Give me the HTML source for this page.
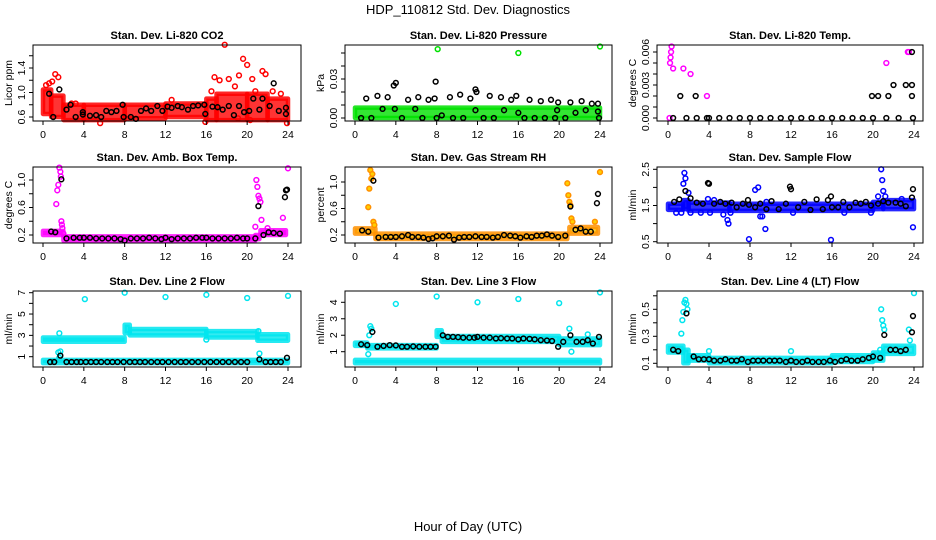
<!DOCTYPE html>
<html><head><meta charset="utf-8"><style>
html,body{margin:0;padding:0;background:#fff;}
svg{display:block;font-family:"Liberation Sans",sans-serif;}
</style></head><body>
<svg id="chart" width="936" height="540" viewBox="0 0 936 540" xmlns="http://www.w3.org/2000/svg">
<text x="468" y="14" text-anchor="middle" font-size="13">HDP_110812  Std. Dev. Diagnostics</text>
<text x="468" y="531" text-anchor="middle" font-size="13">Hour of Day (UTC)</text>
</svg>
<script>
const xTicks=[0,4,8,12,16,20,24];
// Panel 1 CO2
const co2Runs=[[0,0.8,0.65,1.05],[0.8,2,0.6,0.95],[2,4,0.55,0.8],[4,8,0.55,0.8],[8,12,0.58,0.8],[12,16,0.6,0.82],[16,17,0.55,0.9],[17,20,0.55,0.98],[20,22,0.55,0.98],[22,24,0.55,0.9]];
const co2PtsX=[0.3,0.6,0.9,1.2,1.5,2.8,3.2,5.6,12.6,15.9,16.5,16.8,17.3,17.8,18.2,18.8,19.2,19.6,20,20.5,20.8,21.5,21.8,22.5,23.3,23.9,19.1,20.3];
const co2PtsY=[1.12,1.15,1.18,1.3,1.25,0.82,0.82,0.5,0.88,0.52,1.02,1.25,1.2,1.78,1.22,1.1,1.28,1.55,1.45,1.22,1.02,1.35,1.3,1.02,0.98,0.5,0.58,0.55];
const co2BlkX=[0.6,1.0,1.6,2.3,2.7,3.2,3.9,3.9,4.6,5.2,5.7,6.2,6.7,7.2,7.8,7.9,8.6,9.1,9.6,10.1,10.6,11.2,11.7,12.2,12.6,13.2,13.6,14.2,14.7,15.2,15.8,15.9,16.6,17.1,17.6,18.2,18.7,19.2,19.7,20.2,20.6,21.2,21.5,22.2,22.6,23.1,23.8,23.8];
const co2BlkY=[0.98,0.6,1.05,0.72,0.8,0.6,0.68,0.64,0.62,0.63,0.6,0.7,0.68,0.7,0.8,0.6,0.6,0.57,0.7,0.74,0.7,0.78,0.7,0.77,0.75,0.78,0.76,0.72,0.78,0.79,0.8,0.65,0.77,0.76,0.72,0.78,0.63,0.78,0.68,0.7,0.9,0.72,0.9,0.78,1.15,0.7,0.75,0.65];
const co2Ticks=[0.6,0.8,1.0,1.2,1.4,1.6];const co2Labels=["0.6","1.0","1.4"];
// Panel 2 Pressure
const presRuns=[[0,24,0,0.008]];
const presPtsX=[8.1,16,24];const presPtsY=[0.053,0.05,0.055];
const presBlkX=[1.1,2.2,3.2,3.8,4,5.2,6.2,7.2,7.9,7.8,9.3,10.3,11.3,11.8,11.9,13.2,14.3,15.3,15.8,17.1,18.2,19.2,19.9,21.1,22.2,23.2,23.8,0.6,1.6,2.7,3.9,4.6,5.9,6.6,8,8.5,9.6,10.6,11.8,12.6,13.6,14.6,16,16.6,17.6,18.6,19.6,19.8,20.6,21.6,22.6,23.8,23.9];
const presBlkY=[0.015,0.017,0.016,0.025,0.027,0.014,0.016,0.014,0.028,0.015,0.016,0.018,0.015,0.022,0.02,0.017,0.016,0.014,0.017,0.014,0.013,0.014,0.012,0.012,0.013,0.011,0.011,0,0,0.007,0.007,0,0.007,0,0,0.002,0,0,0.006,0,0,0.006,0.004,0,0,0,0,0.006,0,0.004,0.006,0.005,0];
const presTicks=[0,0.01,0.02,0.03,0.04,0.05];const presLabels=["0.00","0.03"];
// Panel 3 Temp
const tempRuns=[[0,24,0,0],[0.1,2.3,0.002,0.002],[0.3,1.3,0.003,0.003],[20,24,0.002,0.002],[21,23.5,0.003,0.003],[21.6,23,0.004,0.004],[22.8,23.3,0.005,0.005]];
const tempPtsX=[0.15,0.2,0.25,0.3,0.35,0.5,1.5,2.2,3.8,21.3,23.4,23.5];
const tempPtsY=[0,0.005,0.0055,0.006,0.0065,0.0045,0.0045,0.004,0.002,0.005,0.006,0.006];
const tempBlkX=[1.2,2.7,19.9,20.5,21.5,22,23.2,23.8,23.8,23.8,0.5,1.8,2.8,3.8,4,5,6,7,8,9,10,11,12,13,14,15,16,17,18,19,20,21.3,22.5,23.9];
const tempBlkY=[0.002,0.002,0.002,0.002,0.002,0.003,0.003,0.003,0.002,0.006,0,0,0,0,0,0,0,0,0,0,0,0,0,0,0,0,0,0,0,0,0,0,0,0];
const tempTicks=[0,0.001,0.002,0.003,0.004,0.005,0.006];const tempLabels=["0.000","0.003","0.006"];
// Panel 4 Amb box temp
const ambRuns=[[0,2,0.2,0.26],[2,20.8,0.12,0.18],[20.8,21.2,0.14,0.2],[21.3,23.8,0.2,0.27]];
const ambPtsX=[1.3,1.4,1.5,1.6,1.7,1.75,1.8,1.85,1.9,2.0,20.8,20.9,21.0,21.1,21.2,21.3,21.4,23.5,24,20.7,22];
const ambPtsY=[0.65,0.85,0.93,1.18,1.12,1.05,0.4,0.35,0.3,0.22,0.32,1.0,0.9,0.77,0.73,0.68,0.42,0.45,1.17,0.15,0.3];
const ambBlkX=[0.8,1.2,1.8,2.3,3,3.6,4,4.6,5.2,5.8,6.4,7,7.6,8,8.6,9.2,9.8,10.4,11,11.6,12,12.6,13.2,13.8,14.4,15,15.6,16,16.6,17.2,17.8,18.4,19,19.6,20,20.8,21.1,21.6,22.1,22.6,23.2,23.7,23.8,23.9];
const ambBlkY=[0.25,0.24,1.01,0.15,0.16,0.16,0.16,0.16,0.15,0.15,0.15,0.15,0.14,0.12,0.15,0.15,0.15,0.16,0.15,0.14,0.16,0.14,0.15,0.15,0.15,0.16,0.16,0.16,0.15,0.15,0.15,0.15,0.16,0.15,0.15,0.15,0.62,0.2,0.24,0.23,0.22,0.75,0.85,0.86];
const ambTicks=[0.2,0.4,0.6,0.8,1.0];const ambLabels=["0.2","0.6","1.0"];
// Panel 5 RH
const rhRuns=[[0,2,0.22,0.3],[2,20.8,0.14,0.22],[21,23.8,0.22,0.32]];
const rhPtsX=[1.3,1.4,1.5,1.6,1.7,1.8,1.9,20.8,20.9,21,21.1,21.2,21.3,23.5,24];
const rhPtsY=[0.62,0.9,1.18,1.05,1.12,0.4,0.35,0.98,0.8,0.7,0.65,0.45,0.4,0.4,1.15];
const rhBlkX=[0.7,1.3,1.8,2.3,3,3.5,4,4.6,5.2,5.6,6.2,6.7,7.2,7.6,8,8.6,9.2,9.7,10.2,10.7,11.2,11.8,12.4,12.9,13.5,14,14.6,15.2,15.7,16.2,16.8,17.3,17.8,18.3,18.8,19.3,19.9,20.6,21.1,21.6,22.1,22.6,23.1,23.7,23.8];
const rhBlkY=[0.27,0.25,1.02,0.16,0.17,0.17,0.17,0.18,0.2,0.17,0.17,0.16,0.14,0.15,0.18,0.18,0.19,0.13,0.16,0.17,0.17,0.18,0.17,0.17,0.16,0.17,0.2,0.19,0.18,0.16,0.18,0.17,0.19,0.19,0.21,0.19,0.17,0.19,0.63,0.28,0.3,0.25,0.25,0.68,0.82];
const rhTicks=[0.2,0.4,0.6,0.8,1.0];const rhLabels=["0.2","0.6","1.0"];
// Panel 6 Sample flow
const sfRuns=[[0,1.5,1.38,1.55],[1.5,2,1.4,1.65],[2,6,1.35,1.58],[6,20,1.35,1.55],[20,21,1.4,1.6],[21,24,1.4,1.65]];
const sfPtsX=[1.3,1.5,1.6,1.7,2.0,3.2,4.1,5.4,5.8,5.9,6.1,7.9,8.5,8.8,9.0,9.2,9.5,9.6,15.9,17.2,19.8,20.5,20.8,20.9,21.0,21.2,22.8,23.9,0.8,2.2,12.2,3.9,4.5];
const sfPtsY=[1.3,2.1,2.4,2.25,1.85,1.3,1.3,1.25,1.1,1.0,1.3,0.57,1.93,2.0,1.2,1.2,0.85,1.6,0.55,1.3,1.3,1.75,2.5,2.2,1.9,1.75,1.68,0.9,1.3,1.3,1.3,1.68,1.65];
const sfBlkX=[0.6,1.1,1.7,2.2,2.8,3.4,3.9,4.0,4.5,5.1,5.6,6.2,6.7,7.3,7.8,7.9,8.5,9.0,9.6,10.1,10.8,11.5,11.9,12.0,12.7,13.3,13.9,14.5,15.1,15.6,15.9,16.0,16.6,17.1,17.7,18.3,18.8,19.3,19.8,20.5,21.0,21.5,22.2,22.7,23.2,23.8,23.9];
const sfBlkY=[1.6,1.67,1.9,1.7,1.58,1.55,2.12,2.1,1.55,1.6,1.55,1.58,1.45,1.55,1.65,1.52,1.45,1.55,1.4,1.62,1.4,1.55,2.02,1.95,1.45,1.6,1.38,1.67,1.4,1.65,1.75,1.45,1.45,1.6,1.45,1.58,1.55,1.6,1.5,1.55,1.62,1.58,1.58,1.55,1.48,1.72,1.95];
const sfTicks=[0.5,1.0,1.5,2.0,2.5];const sfLabels=["0.5","1.5","2.5"];
// Panel 7 Line 2
const l2Runs=[[0,8,2.4,2.8],[8,8.5,3.2,4.0],[8.5,16,3.0,3.6],[16,21,2.8,3.4],[21,24,2.5,3.1],[0,24,0.4,0.7]];
const l2PtsX=[4.1,8,12,16,20,24,1.6,1.7,1.6,1.5,16,21.1,21.2];
const l2PtsY=[6.4,7.0,6.6,6.8,6.5,6.7,3.2,1.5,0.9,1.4,2.6,3.4,1.3];
const l2BlkX=[0.7,1.1,1.7,2.3,2.8,3.3,3.7,4.2,4.7,5.2,5.7,6.3,6.8,7.3,7.9,8.5,9.0,9.5,10.0,10.6,11.2,11.7,12.3,12.9,13.5,14.0,14.6,15.2,15.8,16.4,17.0,17.6,18.2,18.8,19.4,20.0,21.2,21.8,22.3,22.8,23.3,23.9];
const l2BlkY=[0.5,0.5,1.1,0.5,0.5,0.5,0.5,0.5,0.5,0.5,0.5,0.5,0.5,0.5,0.5,0.5,0.5,0.5,0.5,0.5,0.5,0.5,0.5,0.5,0.5,0.5,0.5,0.5,0.5,0.5,0.5,0.5,0.5,0.5,0.5,0.5,0.75,0.5,0.5,0.5,0.5,0.9];
const l2Ticks=[1,2,3,4,5,6,7];const l2Labels=["1","3","5","7"];
// Panel 8 Line 3
const l3Runs=[[0,1.2,1.35,1.55],[1.2,8,1.2,1.4],[8,8.5,1.9,2.3],[8.5,20,1.6,1.95],[20,24,1.4,1.8],[0,24,0.3,0.5]];
const l3PtsX=[4,8,12,16,20,24,1.5,1.6,1.4,1.3,21,21.2,22.8];
const l3PtsY=[3.9,4.35,4.0,4.2,3.95,4.6,2.55,2.4,2.0,0.85,2.4,1.0,2.05];
const l3BlkX=[0.6,1.2,1.7,2.2,2.8,3.4,4.0,4.6,5.1,5.7,6.3,6.9,7.4,7.9,8.6,9.1,9.6,10.1,10.6,11.2,11.7,12.0,12.6,13.2,13.8,14.3,14.9,15.4,16,16.5,17.1,17.6,18.2,18.8,19.3,19.9,20.4,21.1,21.7,22.3,22.8,23.3,23.9];
const l3BlkY=[1.45,1.4,2.2,1.3,1.35,1.4,1.38,1.3,1.3,1.32,1.3,1.3,1.3,1.3,2.0,1.9,1.9,1.88,1.85,1.85,1.85,1.9,1.85,1.85,1.8,1.82,1.8,1.8,1.75,1.8,1.78,1.75,1.7,1.68,1.65,1.3,1.6,2.0,1.6,1.6,1.7,1.5,1.9];
const l3Ticks=[1,2,3,4];const l3Labels=["1","2","3","4"];
// Panel 9 Line 4
const l4Runs=[[0,1.5,0.18,0.23],[1.5,2,0.1,0.2],[2,4,0.12,0.16],[4,16,0.1,0.14],[16,20,0.11,0.16],[20,21,0.12,0.18],[21,24,0.17,0.23]];
const l4PtsX=[1.3,1.4,1.5,1.6,1.7,1.8,1.9,4,12,20.7,20.8,20.9,21,21.1,23.6,24,23.5];
const l4PtsY=[0.32,0.42,0.48,0.55,0.57,0.54,0.5,0.19,0.19,0.2,0.5,0.42,0.38,0.35,0.27,0.62,0.35];
const l4BlkX=[0.5,1.0,1.8,2.5,3.0,3.5,4.0,4.5,5.1,5.6,6.2,6.7,7.2,7.8,8.3,8.8,9.3,9.9,10.4,10.9,11.5,12.0,12.5,13.1,13.6,14.1,14.7,15.2,15.8,16.3,16.9,17.4,17.9,18.5,19.0,19.6,20.0,20.7,21.1,21.7,22.2,22.7,23.2,23.8,23.9];
const l4BlkY=[0.2,0.19,0.47,0.15,0.13,0.13,0.13,0.12,0.12,0.13,0.12,0.12,0.13,0.11,0.12,0.12,0.12,0.12,0.12,0.12,0.11,0.12,0.11,0.11,0.12,0.11,0.11,0.11,0.12,0.11,0.12,0.13,0.12,0.12,0.13,0.14,0.15,0.14,0.31,0.2,0.2,0.19,0.2,0.33,0.45];
const l4Ticks=[0.1,0.2,0.3,0.4,0.5,0.6];const l4Labels=["0.1","0.3","0.5"];

const svg=document.getElementById('chart');
const NS='http://www.w3.org/2000/svg';
function mk(tag,attrs){const e=document.createElementNS(NS,tag);for(const k in attrs)e.setAttribute(k,attrs[k]);return e;}
const colX=[{l:33,r:301,x0:43,x24:288,lab:12},{l:345,r:612,x0:355,x24:600,lab:324},{l:657,r:923,x0:668,x24:914,lab:636}];
const rowY=[{t:45,b:121},{t:167,b:243},{t:291,b:367}];
const panels=[
 {name:'co2',title:'Stan. Dev. Li-820 CO2',yl:'Licor ppm',c:0,r:0,ya:0.6,pa:117,yb:1.4,pb:68,runs:co2Runs,px:co2PtsX,py:co2PtsY,bx:co2BlkX,by:co2BlkY,ticks:co2Ticks,labels:co2Labels,col:'#ff0000',fill:'none'},
 {name:'pressure',title:'Stan. Dev. Li-820 Pressure',yl:'kPa',c:1,r:0,ya:0,pa:118,yb:0.03,pb:79,runs:presRuns,px:presPtsX,py:presPtsY,bx:presBlkX,by:presBlkY,ticks:presTicks,labels:presLabels,col:'#00e000',fill:'none'},
 {name:'temp',title:'Stan. Dev. Li-820 Temp.',yl:'degrees C',c:2,r:0,ya:0,pa:118,yb:0.006,pb:52,runs:tempRuns,px:tempPtsX,py:tempPtsY,bx:tempBlkX,by:tempBlkY,ticks:tempTicks,labels:tempLabels,col:'#ff00ff',fill:'none'},
 {name:'amb-box-temp',title:'Stan. Dev. Amb. Box Temp.',yl:'degrees C',c:0,r:1,ya:0.2,pa:235,yb:1.0,pb:180,runs:ambRuns,px:ambPtsX,py:ambPtsY,bx:ambBlkX,by:ambBlkY,ticks:ambTicks,labels:ambLabels,col:'#ff00ff',fill:'none'},
 {name:'gas-rh',title:'Stan. Dev. Gas Stream RH',yl:'percent',c:1,r:1,ya:0.2,pa:235,yb:1.0,pb:182,runs:rhRuns,px:rhPtsX,py:rhPtsY,bx:rhBlkX,by:rhBlkY,ticks:rhTicks,labels:rhLabels,col:'#ff9000',fill:'#ffd000'},
 {name:'sample-flow',title:'Stan. Dev. Sample Flow',yl:'ml/min',c:2,r:1,ya:0.5,pa:241.7,yb:2.5,pb:169.3,runs:sfRuns,px:sfPtsX,py:sfPtsY,bx:sfBlkX,by:sfBlkY,ticks:sfTicks,labels:sfLabels,col:'#0000ff',fill:'none'},
 {name:'line2-flow',title:'Stan. Dev. Line 2 Flow',yl:'ml/min',c:0,r:2,ya:1,pa:356.7,yb:7,pb:292.7,runs:l2Runs,px:l2PtsX,py:l2PtsY,bx:l2BlkX,by:l2BlkY,ticks:l2Ticks,labels:l2Labels,col:'#00e5ee',fill:'none'},
 {name:'line3-flow',title:'Stan. Dev. Line 3 Flow',yl:'ml/min',c:1,r:2,ya:1,pa:351.7,yb:4,pb:302.3,runs:l3Runs,px:l3PtsX,py:l3PtsY,bx:l3BlkX,by:l3BlkY,ticks:l3Ticks,labels:l3Labels,col:'#00e5ee',fill:'none'},
 {name:'line4-flow',title:'Stan. Dev. Line 4 (LT) Flow',yl:'ml/min',c:2,r:2,ya:0.1,pa:363.3,yb:0.5,pb:309.3,runs:l4Runs,px:l4PtsX,py:l4PtsY,bx:l4BlkX,by:l4BlkY,ticks:l4Ticks,labels:l4Labels,col:'#00e5ee',fill:'none'}
];
panels.forEach(p=>{
 const C=colX[p.c],R=rowY[p.r];
 const sx=h=>C.x0+(C.x24-C.x0)*h/24;
 const sy=v=>p.pa+(p.pb-p.pa)*(v-p.ya)/(p.yb-p.ya);
 const g=mk('g',{});
 
 
 svg.appendChild(g);
 const t=mk('text',{x:(C.l+C.r)/2,y:R.t-6,'text-anchor':'middle','font-size':'11','font-weight':'bold'});
 
 
 t.textContent=p.title;g.appendChild(t);
 p.runs.forEach(rn=>{
  const y1=sy(rn[3]),y2=sy(rn[2]);
  const rc=mk('rect',{x:sx(rn[0]),y:y1,width:Math.max(0,sx(rn[1])-sx(rn[0])),height:Math.max(0,y2-y1),fill:p.fill==='none'?p.col:p.fill,'fill-opacity':0.8,stroke:p.col,'stroke-opacity':0.85,'stroke-width':4.5,'stroke-linejoin':'round'});
  
  
  g.appendChild(rc);
 });
 p.px.forEach((h,i)=>{
  const c=mk('circle',{cx:sx(h),cy:sy(p.py[i]),r:2.4,fill:p.fill,stroke:p.col,'stroke-width':1.5});
  
  
  g.appendChild(c);
 });
 p.bx.forEach((h,i)=>{
  const c=mk('circle',{cx:sx(h),cy:sy(p.by[i]),r:2.4,fill:'none',stroke:'#000','stroke-width':1.5});
  
  
  g.appendChild(c);
 });
 const box=mk('rect',{x:C.l,y:R.t,width:C.r-C.l,height:R.b-R.t,fill:'none',stroke:'#000','stroke-width':1});
 
 
 g.appendChild(box);
 xTicks.forEach(h=>{
  g.appendChild(mk('line',{x1:sx(h),x2:sx(h),y1:R.b,y2:R.b+4,stroke:'#000'}));
  const tx=mk('text',{x:sx(h),y:R.b+17,'text-anchor':'middle','font-size':'10.5'});
  
  
  tx.textContent=h;g.appendChild(tx);
 });
 p.ticks.forEach(v=>{g.appendChild(mk('line',{x1:C.l-4,x2:C.l,y1:sy(v),y2:sy(v),stroke:'#000'}));});
 p.labels.forEach(s=>{
  const v=parseFloat(s),yy=sy(v),xx=C.l-8;
  const tx=mk('text',{x:xx,y:yy,'text-anchor':'middle','font-size':'10.5',transform:`rotate(-90 ${xx} ${yy})`});
  
  
  tx.textContent=s;g.appendChild(tx);
 });
 const my=(R.t+R.b)/2;
 const yl=mk('text',{x:C.lab,y:my,'text-anchor':'middle','font-size':'10.5',transform:`rotate(-90 ${C.lab} ${my})`});
 
 
 yl.textContent=p.yl;g.appendChild(yl);
});
</script>
</body></html>
